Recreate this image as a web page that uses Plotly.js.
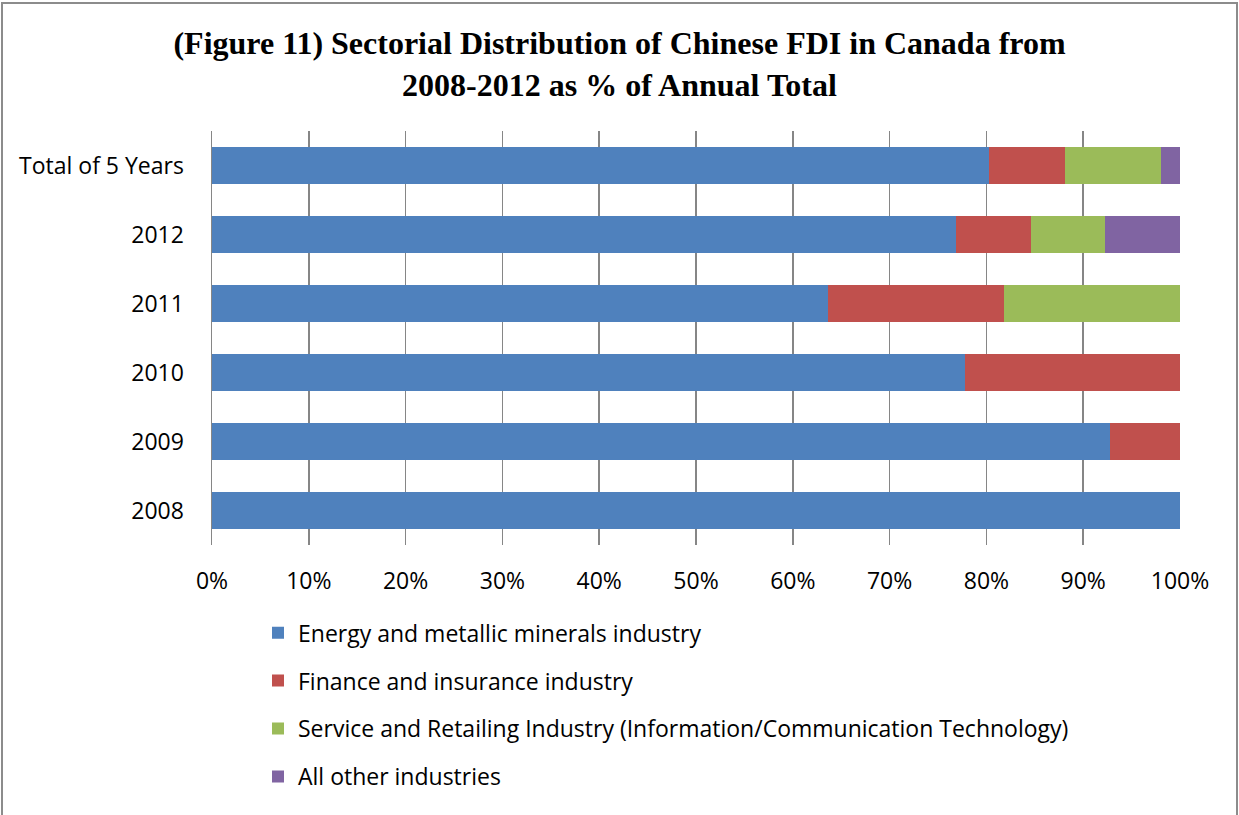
<!DOCTYPE html>
<html>
<head>
<meta charset="utf-8">
<script src="https://cdn.plot.ly/plotly-3.0.1.min.js"></script>
<style>
  html, body { margin:0; padding:0; background:#fff; overflow:hidden; }
  #wrap { position:relative; width:1239px; height:815px; }
  #frame { position:absolute; left:1px; top:2px; width:1233px; height:830px; border:2px solid #8c8c8c; pointer-events:none; }
  #chart { position:absolute; left:0; top:0; width:1239px; height:815px; }
</style>
</head>
<body>
<div id="wrap">
  <div id="chart"></div>
  <div id="frame"></div>
</div>
<script>
const categories = ['2008', '2009', '2010', '2011', '2012', 'Total of 5 Years'];
const seriesNames = [
  'Energy and metallic minerals industry',
  'Finance and insurance industry',
  'Service and Retailing Industry (Information/Communication Technology)',
  'All other industries'
];
const energy   = [1.000, 0.928, 0.778, 0.636, 0.769, 0.803];
const finance  = [0.000, 0.072, 0.222, 0.182, 0.077, 0.078];
const service  = [0.000, 0.000, 0.000, 0.182, 0.077, 0.099];
const other    = [0.000, 0.000, 0.000, 0.000, 0.077, 0.020];
const xTickVals = [0, 0.1, 0.2, 0.3, 0.4, 0.5, 0.6, 0.7, 0.8, 0.9, 1.0];
const xTickText = ['0%', '10%', '20%', '30%', '40%', '50%', '60%', '70%', '80%', '90%', '100%'];

const colors = ['#4F81BD', '#C0504D', '#9BBB59', '#8064A2'];
const values = [energy, finance, service, other];

const traces = values.map((v, i) => ({
  type: 'bar',
  orientation: 'h',
  name: seriesNames[i],
  y: categories,
  x: v,
  legendgroup: 'g' + i,
  marker: { color: colors[i], line: { width: 0 } },
  hoverinfo: 'x+y+name'
}));

const font = '"Open Sans", "Noto Sans", sans-serif';

const layout = {
  width: 1239,
  height: 815,
  barmode: 'stack',
  bargap: 0.45,
  paper_bgcolor: '#ffffff',
  plot_bgcolor: '#ffffff',
  margin: { l: 212, r: 59, t: 131, b: 270 },
  title: {
    text: '<b>(Figure 11) Sectorial Distribution of Chinese FDI in Canada from<br>2008-2012 as % of Annual Total</b>',
    font: { family: '"Liberation Serif", "Times New Roman", serif', size: 32, color: '#000' },
    x: 0.5, xanchor: 'center',
    yref: 'container',
    y: 1 - 54 / 815, yanchor: 'middle'
  },
  xaxis: {
    range: [0, 1],
    tickvals: xTickVals,
    ticktext: xTickText,
    showgrid: true,
    gridcolor: '#868686',
    gridwidth: 1.5,
    zeroline: false,
    showline: false,
    ticks: '',
    ticklabelstandoff: 20,
    tickfont: { family: font, size: 23, color: '#000' },
    fixedrange: true
  },
  yaxis: {
    type: 'category',
    categoryorder: 'array',
    categoryarray: categories,
    showgrid: false,
    zeroline: false,
    showline: true,
    linecolor: '#868686',
    linewidth: 1.5,
    ticks: '',
    ticklabelstandoff: 22,
    tickfont: { family: font, size: 23, color: '#000' },
    fixedrange: true
  },
  showlegend: true,
  legend: {
    orientation: 'v',
    x: (258 - 212) / 968,
    xanchor: 'left',
    y: -0.16,
    yanchor: 'top',
    traceorder: 'grouped',
    tracegroupgap: 15,
    font: { family: font, size: 23, color: '#000' },
    itemwidth: 30,
    bgcolor: 'rgba(0,0,0,0)'
  }
};

Plotly.newPlot('chart', traces, layout, { displayModeBar: false, staticPlot: true });
</script>
</body>
</html>
